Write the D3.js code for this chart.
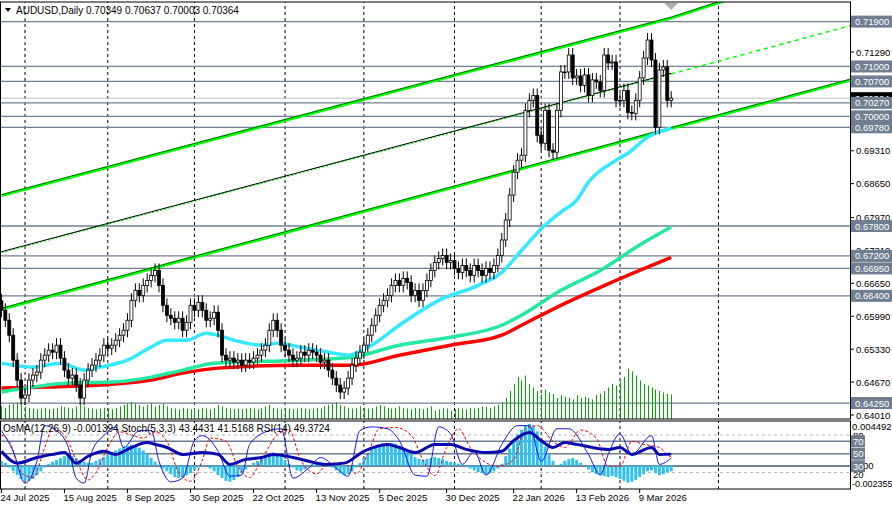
<!DOCTYPE html>
<html><head><meta charset="utf-8">
<script src="https://cdn.jsdelivr.net/npm/d3@7"></script>
<style>body{margin:0;background:#fff}svg{display:block}text{font-family:"Liberation Sans",Arial,sans-serif}</style>
</head><body>
<svg id="c" width="892" height="506"></svg>
<script>
const startDate = "2025-07-24";
const firstOpen = 0.6630;
const closes = [0.6611,0.6591,0.6561,0.6511,0.6471,0.6435,0.6441,0.6471,0.6481,0.6487,
0.6511,0.6521,0.6531,0.6527,0.6541,0.6515,0.6491,0.6475,0.6481,0.6461,
0.6435,0.6471,0.6491,0.6501,0.6511,0.6521,0.6541,0.6535,0.6541,0.6551,
0.6561,0.6571,0.6591,0.6631,0.6651,0.6641,0.6661,0.6671,0.6681,0.6691,
0.6661,0.6621,0.6601,0.6595,0.6587,0.6595,0.6571,0.6587,0.6621,0.6611,
0.6627,0.6611,0.6591,0.6595,0.6607,0.6571,0.6521,0.6511,0.6515,0.6507,
0.6511,0.6501,0.6511,0.6507,0.6515,0.6521,0.6531,0.6541,0.6571,0.6591,
0.6571,0.6541,0.6531,0.6521,0.6511,0.6515,0.6527,0.6521,0.6531,0.6527,
0.6521,0.6507,0.6511,0.6491,0.6475,0.6461,0.6447,0.6455,0.6475,0.6501,
0.6515,0.6527,0.6541,0.6561,0.6581,0.6601,0.6621,0.6631,0.6641,0.6661,
0.6671,0.6661,0.6675,0.6667,0.6641,0.6651,0.6631,0.6651,0.6671,0.6691,
0.6707,0.6715,0.6721,0.6707,0.6711,0.6695,0.6687,0.6701,0.6691,0.6681,
0.6701,0.6691,0.6681,0.6695,0.6687,0.6701,0.6721,0.6752,0.6792,0.6842,
0.6888,0.6912,0.6922,0.7012,0.7032,0.7042,0.6962,0.6946,0.7012,0.6932,
0.6928,0.7012,0.7089,0.7089,0.7123,0.7077,0.7081,0.7062,0.7083,0.7042,
0.7073,0.7069,0.7052,0.7123,0.7107,0.7109,0.7032,0.7032,0.7052,0.7008,
0.7006,0.7032,0.7077,0.7117,0.7153,0.7113,0.6978,0.7093,0.7099,0.7032,
0.70364];
const volumes = [18,16,20,22,24,20,18,16,15,14,15,16,14,15,16,18,17,16,15,18,
20,18,16,15,14,15,16,15,14,16,18,20,22,24,22,20,18,20,22,18,
20,22,18,16,15,14,16,15,14,15,14,16,15,14,16,20,18,16,15,14,
15,14,15,16,15,14,16,18,20,16,15,14,16,15,14,15,16,15,14,15,
16,15,18,20,22,24,20,18,16,15,16,18,16,15,16,18,20,18,16,15,
16,18,16,15,14,16,15,14,16,18,12,14,16,15,12,14,16,15,14,16,
15,16,18,17,16,18,20,24,30,40,50,60,55,62,50,45,40,35,42,38,
36,30,34,32,30,28,34,30,32,30,28,34,36,40,45,50,48,55,60,72,
68,62,55,50,48,45,42,40,38,36,35];
const osma = [0.5,0.3,-0.2,
-0.6,-1.0,-1.4,-1.6,-1.6,-1.4,-1.0,-0.6,-0.2,
0.2,0.4,0.6,0.8,1.0,1.1,1.0,0.8,0.6,0.4,0.3,
0.3,0.5,0.7,0.9,1.2,1.4,
1.6,1.8,2.0,2.1,2.2,2.1,1.9,1.6,1.2,0.8,0.4,0.1,
-0.3,-0.6,-0.9,-1.2,-1.3,-1.2,-1.0,-0.8,-0.5,-0.2,
0.1,0.0,-0.3,-0.6,-1.0,
-1.3,-1.6,-1.7,-1.5,-1.2,-0.8,
-0.4,0.0,0.3,0.5,0.7,0.9,
1.2,1.4,1.3,1.0,0.6,0.2,
-0.2,-0.5,-0.6,-0.4,-0.2,0.1,0.3,
0.4,0.3,0.1,-0.2,-0.5,
-0.8,-1.0,-0.9,-0.6,-0.2,
0.3,0.8,1.3,1.7,2.0,2.2,2.3,2.4,2.4,2.3,2.1,1.8,1.5,1.2,0.9,
0.7,0.6,0.7,0.8,0.9,0.8,0.7,0.5,0.4,0.3,0.2,
0.1,-0.1,-0.3,-0.5,
-0.7,-0.8,-0.9,-0.8,-0.6,-0.3,0.2,1.0,
1.8,2.6,3.3,3.8,4.2,4.4,4.2,3.6,2.8,2.0,1.2,
0.5,0.0,0.2,0.5,0.7,0.8,0.6,0.3,0.0,
-0.4,-0.7,-0.9,-1.0,-1.1,-1.2,-1.1,-1.2,-1.4,-1.6,-1.8,-1.7,-1.5,-1.2,
-0.9,-0.6,-0.5,-0.8,-1.0,-0.9,-0.7,-0.6];
const stochMainIdx = [0,3,6,9,11,14,17,19,21,23,26,29,31,35,38,40,43,46,49,51,55,58,61,63,68,71,74,78,81,85,88,91,94,98,101,105,108,111,114,117,120,123,127,131,134,137,141,144,149,152,154,157,160,165,167,170];
const stochMain = [87,54,3,38,95,87,60,11,3,54,79,93,60,87,87,38,5,11,71,79,54,14,16,65,87,90,11,27,44,27,14,87,93,90,71,16,14,93,82,33,54,16,65,95,95,38,90,90,49,16,49,82,49,79,33,43];
const stochSignalIdx = [0,2,5,8,11,13,16,19,22,24,27,30,33,36,39,42,45,48,51,53,57,60,63,66,70,73,76,80,83,87,90,93,96,100,104,107,110,113,116,119,122,126,130,133,136,140,143,147,151,154,157,160,163,167,170];
const stochSignal = [80,70,20,12,60,90,80,40,8,20,60,85,80,75,85,70,20,6,40,75,70,30,12,40,80,88,40,18,35,35,18,50,90,92,80,40,15,60,90,60,40,30,40,90,95,70,60,88,75,30,30,70,65,60,45,41.5];
const rsiIdx = [0,4,9,13,16,19,22,26,29,33,37,39,42,46,51,55,58,62,66,69,74,78,82,87,92,98,101,105,110,114,118,123,127,130,134,137,140,143,146,150,154,157,160,165,167,170];
const rsi = [54,35,44,49,52,35,46,54,49,60,68,65,60,49,52,49,33,41,44,49,44,38,33,35,54,65,60,52,65,65,57,52,54,71,84,71,60,68,65,60,57,60,49,60,49,49.4];
const ma1Idx = [0,8,15,21,25,32,38,42,47,52,55,59,66,70,76,83,88,94,101,111,121,127,132,138,142,146,149,156,159,164,170];
const ma1 = [0.6505,0.6497,0.6505,0.6491,0.6497,0.6511,0.6537,0.6551,0.6551,0.6565,0.6561,0.6551,0.6541,0.6545,0.6537,0.6527,0.6521,0.6541,0.6581,0.6631,0.6661,0.6687,0.6731,0.6782,0.6808,0.6832,0.6868,0.6912,0.6926,0.6958,0.6976];
const ma2Idx = [0,8,17,28,38,46,54,76,89,101,114,127,132,142,152,162,170];
const ma2 = [0.6447,0.6457,0.6465,0.6467,0.6477,0.6491,0.6505,0.6511,0.6517,0.6541,0.6557,0.6581,0.6601,0.6651,0.6691,0.6742,0.6778];
const ma3Idx = [0,12,25,38,46,55,76,89,101,114,127,132,142,152,162,170];
const ma3 = [0.6455,0.6457,0.6461,0.6471,0.6485,0.6495,0.6501,0.6501,0.6521,0.6541,0.6561,0.6581,0.6621,0.6657,0.6691,0.6717];
const levels = [0.7190,0.7100,0.7070,0.7027,0.7000,0.6978,0.6780,0.6720,0.6695,0.6640,0.6425];
const priceTicks = [0.7129,0.6931,0.6865,0.6797,0.6731,0.6665,0.6599,0.6533,0.6467,0.6401];
const trendUpper = [[0,0.6841],[170,0.7197],[184,0.7233]];
const trendMid = [[0,0.6727],[170,0.7085]];
const trendMidExt = [[170,0.7085],[225,0.7202]];
const trendLower = [[0,0.6613],[225,0.7093]];
const gridDates = ["2025-08-01","2025-09-01","2025-10-01","2025-11-03","2025-12-01","2026-01-01","2026-02-02","2026-03-02","2026-04-06"];
const labelDates = ["2025-07-24","2025-08-15","2025-09-08","2025-09-30","2025-10-22","2025-11-13","2025-12-05","2025-12-30","2026-01-22","2026-02-13","2026-03-09"];

const dates=[]; {let d=new Date(startDate+"T00:00:00"); while(dates.length<260){const w=d.getDay(); if(w!==0&&w!==6) dates.push(new Date(d)); d.setDate(d.getDate()+1);} }
const key=d3.timeFormat("%Y-%m-%d"); const idxOf=s=>dates.findIndex(d=>key(d)===s);

const svg=d3.select("#c");
const R=850, mainTop=2, mainBot=419, indTop=421, indBot=489;
const x=d3.scaleLinear().domain([0,170]).range([1.4,671.2]);
const y=d3.scaleLinear().domain([0.6401,0.7129]).range([415,52]);
const yS=d3.scaleLinear().domain([0,100]).range([485,422.5]);
const yO=d3.scaleLinear().domain([-2.355,4.492]).range([488,423]);
const yV=d3.scaleLinear().domain([0,100]).range([419,349]);

const defs=svg.append("defs");
defs.append("clipPath").attr("id","cm").append("rect").attr("x",0).attr("y",mainTop).attr("width",R).attr("height",mainBot-mainTop);
defs.append("clipPath").attr("id","ci").append("rect").attr("x",0).attr("y",indTop).attr("width",R).attr("height",indBot-indTop);
const gm=svg.append("g").attr("clip-path","url(#cm)");
const gi=svg.append("g").attr("clip-path","url(#ci)");

gridDates.forEach(s=>{const i=idxOf(s); [gm,gi].forEach(g=>g.append("line").attr("x1",x(i)).attr("x2",x(i)).attr("y1",0).attr("y2",506).attr("stroke","#000").attr("stroke-dasharray","3,3"));});
levels.forEach(v=>gm.append("line").attr("x1",0).attr("x2",R).attr("y1",y(v)).attr("y2",y(v)).attr("stroke","#6f7f93").attr("stroke-width",1.3));
gm.append("line").attr("x1",0).attr("x2",R).attr("y1",y(0.70364)).attr("y2",y(0.70364)).attr("stroke","#c0c0c0");
volumes.forEach((v,i)=>{const xv=Math.round(x(i))+0.5; gm.append("line").attr("x1",xv).attr("x2",xv).attr("y1",yV(0)).attr("y2",yV(v)).attr("stroke","#00a800").attr("stroke-width",1);});
const tl=d3.line().x(d=>x(d[0])).y(d=>y(d[1]));
gm.append("path").attr("d",tl(trendUpper)).attr("stroke","#00ff00").attr("stroke-width",3).attr("fill","none");
gm.append("path").attr("d",tl(trendUpper)).attr("stroke","#000").attr("stroke-width",0.6).attr("fill","none").attr("transform","translate(0,-1)");
gm.append("path").attr("d",tl(trendMid)).attr("stroke","#00ff00").attr("stroke-width",1.5).attr("fill","none").attr("stroke-dasharray","2,2");
gm.append("path").attr("d",tl(trendMid)).attr("stroke","#000").attr("stroke-width",1).attr("fill","none").attr("transform","translate(0,-0.7)");
gm.append("path").attr("d",tl(trendMidExt)).attr("stroke","#00ff00").attr("stroke-width",1.5).attr("fill","none").attr("stroke-dasharray","4,4");
gm.append("path").attr("d",tl(trendLower)).attr("stroke","#00ff00").attr("stroke-width",3).attr("fill","none");
gm.append("path").attr("d",tl(trendLower)).attr("stroke","#000").attr("stroke-width",0.6).attr("fill","none").attr("transform","translate(0,-1)");
const ml=(ix,vals)=>d3.line().curve(d3.curveMonotoneX).x((d,k)=>x(ix[k])).y(d=>y(d))(vals);
gm.append("path").attr("d",ml(ma3Idx,ma3)).attr("stroke","#ff0000").attr("stroke-width",3.5).attr("fill","none");
gm.append("path").attr("d",ml(ma2Idx,ma2)).attr("stroke","#22e8a0").attr("stroke-width",3.5).attr("fill","none");
gm.append("path").attr("d",ml(ma1Idx,ma1)).attr("stroke","#33e8ff").attr("stroke-width",3.5).attr("fill","none");
const wick=0.0014;
closes.forEach((c,i)=>{const o=i?closes[i-1]:firstOpen; const hi=Math.max(o,c)+wick, lo=Math.min(o,c)-wick;
 gm.append("line").attr("x1",x(i)).attr("x2",x(i)).attr("y1",y(hi)).attr("y2",y(lo)).attr("stroke","#000");
 const t=y(Math.max(o,c)), b=y(Math.min(o,c));
 gm.append("rect").attr("x",x(i)-1.5).attr("y",t).attr("width",3).attr("height",Math.max(0.8,b-t)).attr("fill",c>=o?"#fff":"#000").attr("stroke","#000").attr("stroke-width",0.8);});
gm.append("path").attr("d",`M${x(170)-7},3 L${x(170)+7},3 L${x(170)},10 Z`).attr("fill","#b0b0b0");

[80,20].forEach(v=>gi.append("line").attr("x1",0).attr("x2",R).attr("y1",yS(v)).attr("y2",yS(v)).attr("stroke","#b8b8b8").attr("stroke-dasharray","3,3"));
[70,50,30].forEach(v=>gi.append("line").attr("x1",0).attr("x2",R).attr("y1",yS(v)).attr("y2",yS(v)).attr("stroke","#6f7f93").attr("stroke-width",1.3));
gi.append("line").attr("x1",0).attr("x2",R).attr("y1",yO(0)).attr("y2",yO(0)).attr("stroke","#6f7f93");
osma.forEach((v,i)=>gi.append("rect").attr("x",x(i)-1.5).attr("width",3).attr("y",Math.min(yO(v),yO(0))).attr("height",Math.abs(yO(v)-yO(0))).attr("fill","#2ec0f0"));
const sl=(ix,vals)=>d3.line().curve(d3.curveMonotoneX).x((d,k)=>x(ix[k])).y(d=>yS(d))(vals);
gi.append("path").attr("d",sl(stochSignalIdx,stochSignal)).attr("stroke","#ff0000").attr("stroke-dasharray","3,2").attr("fill","none");
gi.append("path").attr("d",sl(stochMainIdx,stochMain)).attr("stroke","#1515e0").attr("fill","none");
gi.append("path").attr("d",sl(rsiIdx,rsi)).attr("stroke","#0a0ab0").attr("stroke-width",3).attr("fill","none");

svg.append("rect").attr("x",0.5).attr("y",mainTop).attr("width",R).attr("height",mainBot-mainTop).attr("fill","none").attr("stroke","#000");
svg.append("rect").attr("x",0.5).attr("y",indTop).attr("width",R).attr("height",indBot-indTop).attr("fill","none").attr("stroke","#000");

const F="9.5px";
priceTicks.forEach(v=>{svg.append("line").attr("x1",R).attr("x2",R+4).attr("y1",y(v)).attr("y2",y(v)).attr("stroke","#000");
 svg.append("text").attr("x",R+6).attr("y",y(v)+3.5).attr("font-size",F).text(v.toFixed(5));});
svg.append("rect").attr("x",R+1).attr("y",y(0.70364)-6).attr("width",42).attr("height",12).attr("fill","#000");
svg.append("text").attr("x",R+5).attr("y",y(0.70364)+3.5).attr("font-size",F).attr("fill","#fff").text("0.70364");
levels.forEach(v=>{svg.append("rect").attr("x",R+1).attr("y",y(v)-6).attr("width",41).attr("height",12).attr("fill","#717e8f");
 svg.append("text").attr("x",R+5).attr("y",y(v)+3.5).attr("font-size",F).attr("fill","#fff").text(v.toFixed(5));});
svg.append("text").attr("x",R+2).attr("y",430).attr("font-size",F).text("0.004492");
svg.append("text").attr("x",R+3).attr("y",439).attr("font-size",F).text("80");
svg.append("text").attr("x",R+2).attr("y",487).attr("font-size","9px").text("-0.002355");
svg.append("text").attr("x",R+3).attr("y",478).attr("font-size",F).text("20");
svg.append("text").attr("x",R+5).attr("y",yO(0)+3.5).attr("font-size",F).text("0.00");
[70,50,30].forEach(v=>{svg.append("rect").attr("x",R+1).attr("y",yS(v)-6).attr("width",14).attr("height",12).attr("fill","#717e8f");
 svg.append("text").attr("x",R+3).attr("y",yS(v)+3.5).attr("font-size",F).attr("fill","#fff").text(v);});
const fmt=d3.timeFormat("%-d %b %Y");
labelDates.forEach(s=>{const i=idxOf(s); svg.append("line").attr("x1",x(i)).attr("x2",x(i)).attr("y1",indBot).attr("y2",indBot+4).attr("stroke","#000");
 svg.append("text").attr("x",x(i)-1).attr("y",501).attr("font-size",F).text(fmt(dates[i]));});
svg.append("path").attr("d","M5,8 L11,8 L8,12 Z").attr("fill","#000");
svg.append("text").attr("x",16).attr("y",14).attr("font-size","10px").text("AUDUSD,Daily  0.70349 0.70637 0.70003 0.70364");
svg.append("text").attr("x",3).attr("y",432).attr("font-size","10px").text("OsMA(12,26,9) -0.001394  Stoch(5,3,3) 43.4431 41.5168  RSI(14) 49.3724");
</script></body></html>
